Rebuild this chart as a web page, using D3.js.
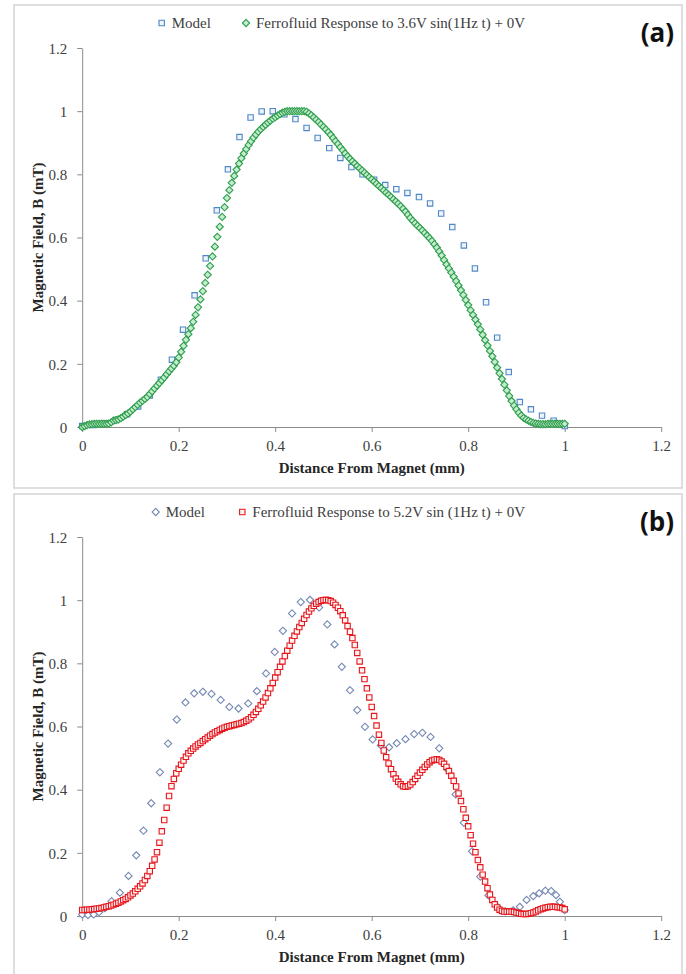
<!DOCTYPE html>
<html>
<head>
<meta charset="utf-8">
<script src="https://cdn.jsdelivr.net/npm/d3@7"></script>
<style>
  body { margin: 0; background: #fff; }
  .tick text { font-family: "Liberation Serif", serif; font-size: 15px; fill: #404040; }
</style>
</head>
<body>
<div id="chart"></div>
<script>
// ---- data ----
const xTicks = [0, 0.2, 0.4, 0.6, 0.8, 1, 1.2];
const yTicks = [0, 0.2, 0.4, 0.6, 0.8, 1, 1.2];

// panel (a): model, square markers
const modelAX = [0, 0.023, 0.047, 0.070, 0.093, 0.116, 0.140, 0.163, 0.186, 0.209, 0.233, 0.256, 0.279, 0.302, 0.326,
  0.349, 0.372, 0.395, 0.419, 0.442, 0.465, 0.488, 0.512, 0.535, 0.558, 0.581, 0.605, 0.628, 0.651, 0.674, 0.698,
  0.721, 0.744, 0.767, 0.791, 0.814, 0.837, 0.860, 0.884, 0.907, 0.930, 0.953, 0.977, 1.000];
const modelAY = [0.003, 0.006, 0.012, 0.022, 0.040, 0.065, 0.100, 0.150, 0.213, 0.308, 0.417, 0.534, 0.686, 0.816, 0.918,
  0.980, 0.999, 1.000, 0.990, 0.975, 0.947, 0.915, 0.883, 0.852, 0.823, 0.800, 0.783, 0.766, 0.753, 0.741, 0.728,
  0.708, 0.676, 0.633, 0.575, 0.502, 0.395, 0.283, 0.174, 0.079, 0.056, 0.036, 0.020, 0.003];

// ferrofluid responses are sampled every 0.005 mm from 0 to 1
const ferroStep = 0.005;
const ferroAY = [
  0.000, 0.003, 0.006, 0.008, 0.009, 0.010, 0.010, 0.010, 0.010, 0.010,
  0.010, 0.011, 0.015, 0.020, 0.022, 0.024, 0.028, 0.033, 0.038, 0.043,
  0.049, 0.056, 0.063, 0.070, 0.077, 0.083, 0.089, 0.095, 0.104, 0.113,
  0.122, 0.131, 0.139, 0.148, 0.157, 0.167, 0.176, 0.185, 0.194, 0.205,
  0.220, 0.238, 0.257, 0.276, 0.294, 0.313, 0.333, 0.355, 0.379, 0.404,
  0.430, 0.456, 0.482, 0.510, 0.540, 0.571, 0.602, 0.634, 0.665, 0.696,
  0.725, 0.750, 0.773, 0.795, 0.815, 0.834, 0.851, 0.866, 0.880, 0.893,
  0.905, 0.916, 0.926, 0.935, 0.943, 0.950, 0.957, 0.964, 0.970, 0.976,
  0.981, 0.986, 0.991, 0.995, 0.998, 1.000, 1.000, 1.000, 1.000, 1.000,
  1.000, 1.000, 1.000, 0.998, 0.993, 0.987, 0.980, 0.973, 0.966, 0.958,
  0.950, 0.942, 0.934, 0.925, 0.915, 0.905, 0.896, 0.886, 0.876, 0.866,
  0.857, 0.849, 0.841, 0.834, 0.826, 0.819, 0.812, 0.805, 0.798, 0.791,
  0.784, 0.777, 0.770, 0.763, 0.756, 0.749, 0.742, 0.735, 0.728, 0.721,
  0.714, 0.707, 0.699, 0.691, 0.682, 0.672, 0.662, 0.653, 0.645, 0.637,
  0.630, 0.622, 0.614, 0.606, 0.598, 0.589, 0.579, 0.568, 0.556, 0.543,
  0.529, 0.515, 0.502, 0.489, 0.476, 0.462, 0.448, 0.433, 0.418, 0.402,
  0.386, 0.370, 0.355, 0.340, 0.325, 0.309, 0.292, 0.275, 0.258, 0.241,
  0.224, 0.206, 0.188, 0.170, 0.152, 0.134, 0.116, 0.098, 0.082, 0.068,
  0.056, 0.045, 0.036, 0.029, 0.024, 0.020, 0.016, 0.013, 0.011, 0.010,
  0.009, 0.009, 0.009, 0.010, 0.010, 0.010, 0.010, 0.010, 0.010, 0.010,
  0.010];

// panel (b): model, diamond markers
const modelBX = [0, 0.012, 0.024, 0.035, 0.047, 0.061, 0.078, 0.096, 0.112, 0.127, 0.143, 0.161, 0.178, 0.196, 0.214,
  0.232, 0.250, 0.268, 0.287, 0.305, 0.324, 0.344, 0.362, 0.381, 0.399, 0.416, 0.435, 0.453, 0.472, 0.491, 0.508,
  0.523, 0.538, 0.555, 0.570, 0.586, 0.602, 0.619, 0.636, 0.652, 0.670, 0.688, 0.705, 0.722, 0.740, 0.757, 0.774,
  0.791, 0.808, 0.825, 0.842, 0.860, 0.877, 0.893, 0.907, 0.921, 0.935, 0.947, 0.960, 0.972, 0.982, 0.990, 1.000];
const modelBY = [0.005, 0.003, 0.005, 0.012, 0.025, 0.047, 0.074, 0.127, 0.192, 0.270, 0.357, 0.455, 0.546, 0.622, 0.676,
  0.705, 0.710, 0.703, 0.684, 0.662, 0.657, 0.673, 0.712, 0.768, 0.836, 0.903, 0.958, 0.994, 1.001, 0.977, 0.923,
  0.860, 0.789, 0.715, 0.652, 0.599, 0.559, 0.540, 0.534, 0.547, 0.560, 0.576, 0.580, 0.567, 0.531, 0.465, 0.385,
  0.295, 0.205, 0.125, 0.065, 0.030, 0.015, 0.018, 0.029, 0.051, 0.063, 0.072, 0.080, 0.079, 0.066, 0.045, 0.019];

const ferroBY = [
  0.019, 0.019, 0.020, 0.020, 0.021, 0.022, 0.023, 0.024, 0.025, 0.027,
  0.029, 0.031, 0.033, 0.036, 0.039, 0.042, 0.046, 0.050, 0.054, 0.059,
  0.065, 0.071, 0.078, 0.086, 0.094, 0.103, 0.114, 0.127, 0.142, 0.159,
  0.179, 0.202, 0.232, 0.268, 0.304, 0.343, 0.380, 0.411, 0.434, 0.452,
  0.466, 0.479, 0.492, 0.504, 0.515, 0.523, 0.530, 0.537, 0.543, 0.548,
  0.554, 0.560, 0.565, 0.571, 0.576, 0.581, 0.585, 0.589, 0.593, 0.596,
  0.599, 0.601, 0.603, 0.605, 0.607, 0.609, 0.611, 0.614, 0.618, 0.623,
  0.629, 0.637, 0.646, 0.656, 0.667, 0.679, 0.692, 0.706, 0.721, 0.738,
  0.755, 0.772, 0.789, 0.806, 0.823, 0.840, 0.856, 0.872, 0.887, 0.901,
  0.915, 0.928, 0.941, 0.953, 0.964, 0.974, 0.982, 0.989, 0.994, 0.998,
  1.000, 1.001, 1.000, 0.997, 0.992, 0.985, 0.976, 0.965, 0.952, 0.936,
  0.918, 0.900, 0.880, 0.858, 0.833, 0.806, 0.778, 0.750, 0.721, 0.692,
  0.662, 0.633, 0.603, 0.574, 0.548, 0.524, 0.503, 0.483, 0.465, 0.449,
  0.435, 0.425, 0.417, 0.411, 0.409, 0.411, 0.416, 0.424, 0.434, 0.444,
  0.454, 0.463, 0.472, 0.480, 0.487, 0.492, 0.495, 0.496, 0.494, 0.489,
  0.482, 0.472, 0.459, 0.444, 0.428, 0.410, 0.388, 0.364, 0.338, 0.311,
  0.284, 0.256, 0.229, 0.202, 0.177, 0.154, 0.131, 0.109, 0.088, 0.068,
  0.051, 0.037, 0.027, 0.020, 0.016, 0.014, 0.014, 0.014, 0.014, 0.013,
  0.011, 0.009, 0.007, 0.006, 0.006, 0.007, 0.009, 0.011, 0.014, 0.018,
  0.021, 0.024, 0.026, 0.028, 0.029, 0.029, 0.029, 0.028, 0.027, 0.025,
  0.021];

const panels = [
  {
    top: 0, label: "(a)",
    model: { xs: modelAX, ys: modelAY, shape: "square", stroke: "#4f86c6", fill: "#eef4fb", name: "Model" },
    ferro: { ys: ferroAY, shape: "diamond", stroke: "#2e9e4c", fill: "#c4ecce",
             name: "Ferrofluid Response to 3.6V sin(1Hz t) + 0V" },
    legendX: [161.7, 246]
  },
  {
    top: 489, label: "(b)",
    model: { xs: modelBX, ys: modelBY, shape: "diamond", stroke: "#7488b4", fill: "#ffffff", name: "Model" },
    ferro: { ys: ferroBY, shape: "square", stroke: "#e5161c", fill: "#fff4f4",
             name: "Ferrofluid Response to 5.2V sin (1Hz t) + 0V" },
    legendX: [155.7, 242.3]
  }
];

// ---- layout ----
const W = 686, H = 974;
const Margin = { LEFT: 82.2, TOP: 48, RIGHT: 661.2, BOTTOM: 427 };

const svg = d3.select("#chart").append("svg")
  .attr("width", W).attr("height", H);

const x = d3.scaleLinear().domain([0, 1.2]).range([Margin.LEFT, Margin.RIGHT]);
const y = d3.scaleLinear().domain([0, 1.2]).range([Margin.BOTTOM, Margin.TOP]);
const fmt = d => String(+d.toFixed(1));

// Excel-style markers: small square, or a square turned 45 degrees
const squarePath = d3.symbol(d3.symbolSquare, 29)();
const diamondPath = "M0,-3.6L3.6,0L0,3.6L-3.6,0Z";
const marker = shape => shape === "square" ? squarePath : diamondPath;

function drawSeries(g, pts, s) {
  g.append("g").selectAll("path")
    .data(pts)
    .enter().append("path")
      .attr("d", marker(s.shape))
      .attr("transform", d => `translate(${x(d[0])},${y(d[1])})`)
      .attr("fill", s.fill)
      .attr("stroke", s.stroke)
      .attr("stroke-width", 1.1);
}

panels.forEach(p => {
  const g = svg.append("g").attr("transform", `translate(0,${p.top})`);

  // frame
  g.append("rect")
    .attr("x", 14).attr("y", 5).attr("width", 668).attr("height", 483)
    .attr("fill", "none").attr("stroke", "#d4d4d4").attr("stroke-width", 1.5);

  // axes
  const yAxis = g.append("g")
    .attr("transform", `translate(${Margin.LEFT},0)`)
    .call(d3.axisLeft(y).tickValues(yTicks).tickFormat(fmt).tickSize(5).tickSizeOuter(0).tickPadding(10));
  const xAxis = g.append("g")
    .attr("transform", `translate(0,${Margin.BOTTOM})`)
    .call(d3.axisBottom(x).tickValues(xTicks).tickFormat(fmt).tickSize(5).tickSizeOuter(0).tickPadding(8));
  [yAxis, xAxis].forEach(a => {
    a.select(".domain").attr("stroke", "#8c8c8c");
    a.selectAll(".tick line").attr("stroke", "#8c8c8c");
  });
  yAxis.selectAll(".tick text").attr("dy", "0.35em");

  // axis titles
  g.append("text")
    .attr("x", (Margin.LEFT + Margin.RIGHT) / 2).attr("y", 473)
    .attr("text-anchor", "middle")
    .style("font-family", "Liberation Serif, serif").style("font-weight", "bold")
    .style("font-size", "15px").attr("fill", "#262626")
    .text("Distance From Magnet (mm)");
  g.append("text")
    .attr("transform", `translate(43,${(Margin.TOP + Margin.BOTTOM) / 2}) rotate(-90)`)
    .attr("text-anchor", "middle")
    .style("font-family", "Liberation Serif, serif").style("font-weight", "bold")
    .style("font-size", "15px").attr("fill", "#262626")
    .text("Magnetic Field, B (mT)");

  // series: model first, ferrofluid on top
  const modelPts = p.model.xs.map((v, i) => [v, p.model.ys[i]]);
  const ferroPts = p.ferro.ys.map((v, i) => [i * ferroStep, v]);
  drawSeries(g, modelPts, p.model);
  drawSeries(g, ferroPts, p.ferro);

  // legend
  [p.model, p.ferro].forEach((s, i) => {
    const lx = p.legendX[i];
    g.append("path")
      .attr("d", marker(s.shape))
      .attr("transform", `translate(${lx},23)`)
      .attr("fill", s.fill).attr("stroke", s.stroke).attr("stroke-width", 1.1);
    g.append("text")
      .attr("x", lx + 10).attr("y", 28)
      .style("font-family", "Liberation Serif, serif").style("font-size", "15px")
      .attr("fill", "#404040")
      .text(s.name);
  });

  // panel letter
  g.append("text")
    .attr("x", 674).attr("y", 42)
    .attr("text-anchor", "end")
    .style("font-family", "Open Sans, sans-serif").style("font-weight", "bold")
    .style("font-size", "26px").attr("fill", "#111")
    .text(p.label);
});
</script>
</body>
</html>
